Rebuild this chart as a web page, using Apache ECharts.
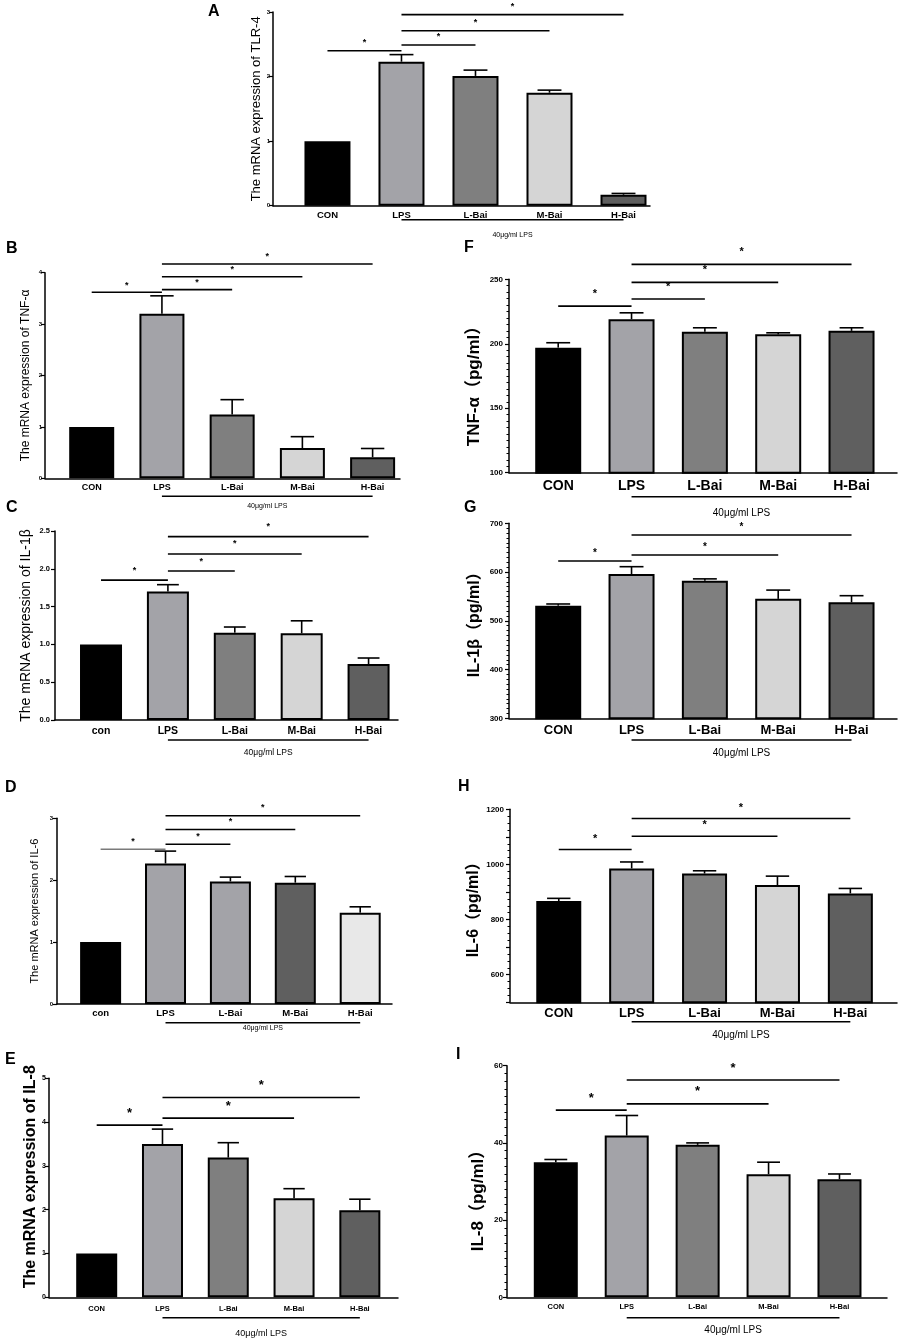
<!DOCTYPE html>
<html>
<head>
<meta charset="utf-8">
<script src="https://cdn.jsdelivr.net/npm/echarts@6/dist/echarts.min.js"></script>
<style>
  html, body { margin: 0; padding: 0; background: #fff; }
  #chart { width: 905px; height: 1339px; }
</style>
</head>
<body>
<div id="chart"></div>
<script>
// groups
const groupsUpper = ["CON", "LPS", "L-Bai", "M-Bai", "H-Bai"];
const groupsLower = ["con", "LPS", "L-Bai", "M-Bai", "H-Bai"];
const lpsText = "40μg/ml LPS";

// A - TLR-4 mRNA
const tlr4Mean = [1.0, 2.23, 2.01, 1.75, 0.17];
const tlr4Sem = [0, 0.11, 0.09, 0.04, 0.02];
const tlr4Sig = [[0, 1, 2.40], [1, 2, 2.49], [1, 3, 2.71], [1, 4, 2.96]];

// B - TNF-α mRNA
const tnfMrnaMean = [1.0, 3.2, 1.24, 0.59, 0.41];
const tnfMrnaSem = [0, 0.35, 0.29, 0.22, 0.17];
const tnfMrnaSig = [[0, 1, 3.62], [1, 2, 3.67], [1, 3, 3.92], [1, 4, 4.17]];

// C - IL-1β mRNA
const il1bMrnaMean = [1.0, 1.70, 1.155, 1.147, 0.74];
const il1bMrnaSem = [0, 0.09, 0.075, 0.165, 0.08];
const il1bMrnaSig = [[0, 1, 1.85], [1, 2, 1.97], [1, 3, 2.196], [1, 4, 2.425]];

// D - IL-6 mRNA
const il6MrnaMean = [1.0, 2.27, 1.98, 1.96, 1.475];
const il6MrnaSem = [0, 0.20, 0.07, 0.10, 0.095];
const il6MrnaSig = [[0, 1, 2.50], [1, 2, 2.58], [1, 3, 2.82], [1, 4, 3.04]];

// E - IL-8 mRNA
const il8MrnaMean = [1.0, 3.50, 3.19, 2.26, 1.99];
const il8MrnaSem = [0, 0.34, 0.34, 0.22, 0.25];
const il8MrnaSig = [[0, 1, 3.93], [1, 3, 4.09], [1, 4, 4.56]];

// F - TNF-α pg/ml
const tnfMean = [197, 219, 209.3, 207.3, 210];
const tnfSem = [3.8, 5, 3.1, 1.2, 2.4];
const tnfSig = [[0, 1, 229.2], [1, 2, 234.7], [1, 3, 247.6], [1, 4, 261.6]];

// G - IL-1β pg/ml
const il1bMean = [531, 596, 582, 545, 538];
const il1bSem = [3.5, 15, 4, 18, 13.5];
const il1bSig = [[0, 1, 622.7], [1, 3, 635], [1, 4, 676]];

// H - IL-6 pg/ml
const il6Mean = [867, 985.5, 967, 925, 895];
const il6Sem = [10, 23.5, 10, 32.6, 18];
const il6Sig = [[0, 1, 1054], [1, 3, 1102.5], [1, 4, 1166.7]];

// I - IL-8 pg/ml
const il8Mean = [35.0, 41.9, 39.5, 31.9, 30.6];
const il8Sem = [0.7, 5.2, 0.5, 3.1, 1.35];
const il8Sig = [[0, 1, 48.5], [1, 3, 50.1], [1, 4, 56.3]];

const greys = ["#000000", "#a3a3a8", "#7f7f7f", "#d5d5d5", "#5f5f5f"];
const greysD = ["#000000", "#a3a3a8", "#a3a3a8", "#5f5f5f", "#e8e8e8"];
const FONT = "Liberation Sans, Arial, Noto Sans CJK SC, sans-serif";

// layout of every panel (pixels), kept apart from the data
const panels = [
  { key: "A", cats: groupsUpper, mean: tlr4Mean, sem: tlr4Sem, sig: tlr4Sig, colors: greys,
    yName: "The mRNA expression of TLR-4", nameSize: 13, nameBold: false, nameGap: 10,
    left: 273, top: 12, width: 377, height: 193.7, xMin: -0.736, xMax: 4.358,
    yMin: 0, yMax: 3, yStep: 1, barW: 46, tickSize: 6, tickGap: 3, catSize: 9.5, catGap: 5,
    starSize: 9, starOff: 8, lpsSize: 7, lpsLine: 14, lpsTextOff: 29, letter: [208, 4] },
  { key: "B", cats: groupsUpper, mean: tnfMrnaMean, sem: tnfMrnaSem, sig: tnfMrnaSig, colors: greys,
    yName: "The mRNA expression of TNF-α", nameSize: 12, nameBold: false, nameGap: 13,
    left: 45, top: 272.7, width: 355, height: 205.6, xMin: -0.665, xMax: 4.39,
    yMin: 0, yMax: 4, yStep: 1, barW: 45, tickSize: 6, tickGap: 3, catSize: 9, catGap: 5,
    starSize: 9, starOff: 7, lpsSize: 7, lpsLine: 18, lpsTextOff: 28, letter: [6, 241] },
  { key: "C", cats: groupsLower, mean: il1bMrnaMean, sem: il1bMrnaSem, sig: il1bMrnaSig, colors: greys,
    yName: "The mRNA expression of IL-1β", nameSize: 14, nameBold: false, nameGap: 22,
    left: 55, top: 531, width: 343, height: 189, xMin: -0.688, xMax: 4.44,
    yMin: 0, yMax: 2.5, yStep: 0.5, decimals: 1, barW: 42, tickSize: 7.5, tickGap: 5, catSize: 10.5, catGap: 6,
    starSize: 9, starOff: 10, lpsSize: 8.5, lpsLine: 20, lpsTextOff: 33, letter: [6, 500] },
  { key: "D", cats: groupsLower, mean: il6MrnaMean, sem: il6MrnaSem, sig: il6MrnaSig, colors: greysD,
    yName: "The mRNA expression of IL-6", nameSize: 11, nameBold: false, nameGap: 17,
    left: 57, top: 818.3, width: 335, height: 185.7, xMin: -0.672, xMax: 4.49,
    yMin: 0, yMax: 3, yStep: 1, barW: 41, tickSize: 6, tickGap: 4, catSize: 9.5, catGap: 5,
    starSize: 9, starOff: 8, lpsSize: 7, lpsLine: 18.7, lpsTextOff: 24, letter: [5, 780],
    firstSigColor: "#7a7a7a" },
  { key: "E", cats: groupsUpper, mean: il8MrnaMean, sem: il8MrnaSem, sig: il8MrnaSig, colors: greys,
    yName: "The mRNA expression of IL-8", nameSize: 16, nameBold: true, nameGap: 8, namePad: [0, 0, 0, 22],
    left: 49, top: 1078.3, width: 349, height: 219, xMin: -0.725, xMax: 4.58,
    yMin: 0, yMax: 5, yStep: 1, barW: 41, tickSize: 7, tickGap: 3, catSize: 7.5, catGap: 8,
    starSize: 13, starOff: 12, lpsSize: 9, lpsLine: 20.4, lpsTextOff: 36, letter: [5, 1052] },
  { key: "F", cats: groupsUpper, mean: tnfMean, sem: tnfSem, sig: tnfSig, colors: greys,
    yName: "TNF-α（pg/ml）", nameSize: 17, nameBold: true, nameGap: 26, namePad: [0, 12, 0, 0],
    left: 509, top: 279.3, width: 388, height: 193.4, xMin: -0.671, xMax: 4.62,
    yMin: 100, yMax: 250, yStep: 50, minor: 10, barW: 46, tickSize: 8, tickGap: 6, catSize: 14, catGap: 6,
    starSize: 11, starOff: 12, lpsSize: 10, lpsLine: 24, lpsTextOff: 40.6, letter: [464, 240] },
  { key: "G", cats: groupsUpper, mean: il1bMean, sem: il1bSem, sig: il1bSig, colors: greys,
    yName: "IL-1β（pg/ml）", nameSize: 16, nameBold: true, nameGap: 26,
    left: 509, top: 523.3, width: 388, height: 195, xMin: -0.671, xMax: 4.62,
    yMin: 300, yMax: 700, yStep: 100, minor: 10, barW: 46, tickSize: 8, tickGap: 6, catSize: 13, catGap: 6,
    starSize: 10, starOff: 8, lpsSize: 10, lpsLine: 21.7, lpsTextOff: 35, letter: [464, 500] },
  { key: "H", cats: groupsUpper, mean: il6Mean, sem: il6Sem, sig: il6Sig, colors: greys,
    yName: "IL-6（pg/ml）", nameSize: 16, nameBold: true, nameGap: 28,
    left: 510, top: 809.3, width: 387, height: 193, xMin: -0.669, xMax: 4.64,
    yMin: 500, yMax: 1200, yStep: 100, labelEvery: 200, minor: 4, barW: 45, tickSize: 8, tickGap: 6, catSize: 13, catGap: 5,
    starSize: 11, starOff: 11, lpsSize: 10, lpsLine: 19.4, lpsTextOff: 32.7, letter: [458, 779] },
  { key: "I", cats: groupsUpper, mean: il8Mean, sem: il8Sem, sig: il8Sig, colors: greys,
    yName: "IL-8（pg/ml）", nameSize: 17, nameBold: true, nameGap: 20, namePad: [0, 30, 0, 0],
    left: 507, top: 1065.7, width: 380, height: 231.6, xMin: -0.688, xMax: 4.67,
    yMin: 0, yMax: 60, yStep: 20, minor: 10, barW: 44, tickSize: 8, tickGap: 4, catSize: 7.5, catGap: 6,
    starSize: 13, starOff: 12, lpsSize: 10, lpsLine: 20.4, lpsTextOff: 33.4, letter: [456, 1047] }
];

const grid = [], xAxis = [], yAxis = [], series = [], graphic = [];

panels.forEach((p, k) => {
  grid.push({ left: p.left, top: p.top, width: p.width, height: p.height, containLabel: false, outerBoundsMode: "none" });

  xAxis.push({
    type: "value", gridIndex: k, min: p.xMin, max: p.xMax,
    splitLine: { show: false },
    axisLine: { onZero: false, lineStyle: { color: "#000", width: 1.5 } },
    axisTick: { show: false },
    axisLabel: {
      customValues: [0, 1, 2, 3, 4],
      formatter: v => p.cats[Math.round(v)] || "",
      color: "#000", fontFamily: FONT, fontWeight: "bold", fontSize: p.catSize, margin: p.catGap
    }
  });

  yAxis.push({
    type: "value", gridIndex: k, min: p.yMin, max: p.yMax, interval: p.yStep,
    splitLine: { show: false },
    axisLine: { show: true, onZero: false, lineStyle: { color: "#000", width: 1.5 } },
    axisTick: { show: true, length: 4, lineStyle: { color: "#000", width: 1.2 } },
    minorTick: p.minor ? { show: true, splitNumber: p.minor, length: 2.5, lineStyle: { color: "#000", width: 1 } } : { show: false },
    axisLabel: {
      color: "#000", fontFamily: FONT, fontWeight: "bold", fontSize: p.tickSize, margin: p.tickGap,
      formatter: v => {
        if (p.labelEvery && v % p.labelEvery !== 0) return "";
        return p.decimals ? v.toFixed(p.decimals) : String(v);
      }
    },
    name: p.yName, nameLocation: "middle", nameGap: p.nameGap, nameRotate: 90,
    nameTextStyle: { color: "#000", fontFamily: FONT, fontSize: p.nameSize, fontWeight: p.nameBold ? "bold" : "normal", padding: p.namePad || 0 }
  });

  // bars
  series.push({
    type: "bar", xAxisIndex: k, yAxisIndex: k, barWidth: p.barW, clip: true,
    itemStyle: { borderColor: "#000", borderWidth: 2 },
    data: p.mean.map((v, i) => ({ value: [i, v], itemStyle: { color: p.colors[i] } }))
  });

  // error bars (upper only)
  series.push({
    type: "custom", xAxisIndex: k, yAxisIndex: k, z: 5,
    data: p.mean.map((v, i) => [i, v, v + p.sem[i]]).filter(d => d[2] > d[1]),
    renderItem(params, api) {
      const base = api.coord([api.value(0), api.value(1)]);
      const tip = api.coord([api.value(0), api.value(2)]);
      const half = p.barW * 0.26;
      const st = { stroke: "#000", lineWidth: 1.6 };
      return {
        type: "group", children: [
          { type: "line", shape: { x1: base[0], y1: base[1], x2: tip[0], y2: tip[1] }, style: st },
          { type: "line", shape: { x1: tip[0] - half, y1: tip[1], x2: tip[0] + half, y2: tip[1] }, style: st }
        ]
      };
    }
  });

  // significance lines with stars
  series.push({
    type: "custom", xAxisIndex: k, yAxisIndex: k, z: 6,
    data: p.sig,
    renderItem(params, api) {
      const a = api.coord([api.value(0), api.value(2)]);
      const b = api.coord([api.value(1), api.value(2)]);
      const col = (params.dataIndex === 0 && p.firstSigColor) ? p.firstSigColor : "#000";
      return {
        type: "group", children: [
          { type: "line", shape: { x1: a[0], y1: a[1], x2: b[0], y2: b[1] }, style: { stroke: col, lineWidth: 1.6 } },
          { type: "text", x: (a[0] + b[0]) / 2, y: a[1] - p.starOff,
            style: { text: "*", fill: "#000", fontFamily: FONT, fontWeight: "bold", fontSize: p.starSize, align: "center", verticalAlign: "middle" } }
        ]
      };
    }
  });

  // 40μg/ml LPS group line under LPS..H-Bai
  series.push({
    type: "custom", xAxisIndex: k, yAxisIndex: k, z: 6,
    data: [[1, 4, p.yMin]],
    renderItem(params, api) {
      const a = api.coord([api.value(0), api.value(2)]);
      const b = api.coord([api.value(1), api.value(2)]);
      return {
        type: "group", children: [
          { type: "line", shape: { x1: a[0], y1: a[1] + p.lpsLine, x2: b[0], y2: b[1] + p.lpsLine }, style: { stroke: "#000", lineWidth: 1.4 } },
          { type: "text", x: (a[0] + b[0]) / 2, y: a[1] + p.lpsTextOff,
            style: { text: lpsText, fill: "#000", fontFamily: FONT, fontSize: p.lpsSize, align: "center", verticalAlign: "middle" } }
        ]
      };
    }
  });

  graphic.push({
    type: "text", left: p.letter[0], top: p.letter[1],
    style: { text: p.key, fill: "#000", font: "bold 16px " + FONT }
  });
});

const chart = echarts.init(document.getElementById("chart"), null, { renderer: "canvas" });
chart.setOption({
  animation: false,
  backgroundColor: "#fff",
  grid, xAxis, yAxis, series, graphic
});
</script>
</body>
</html>
